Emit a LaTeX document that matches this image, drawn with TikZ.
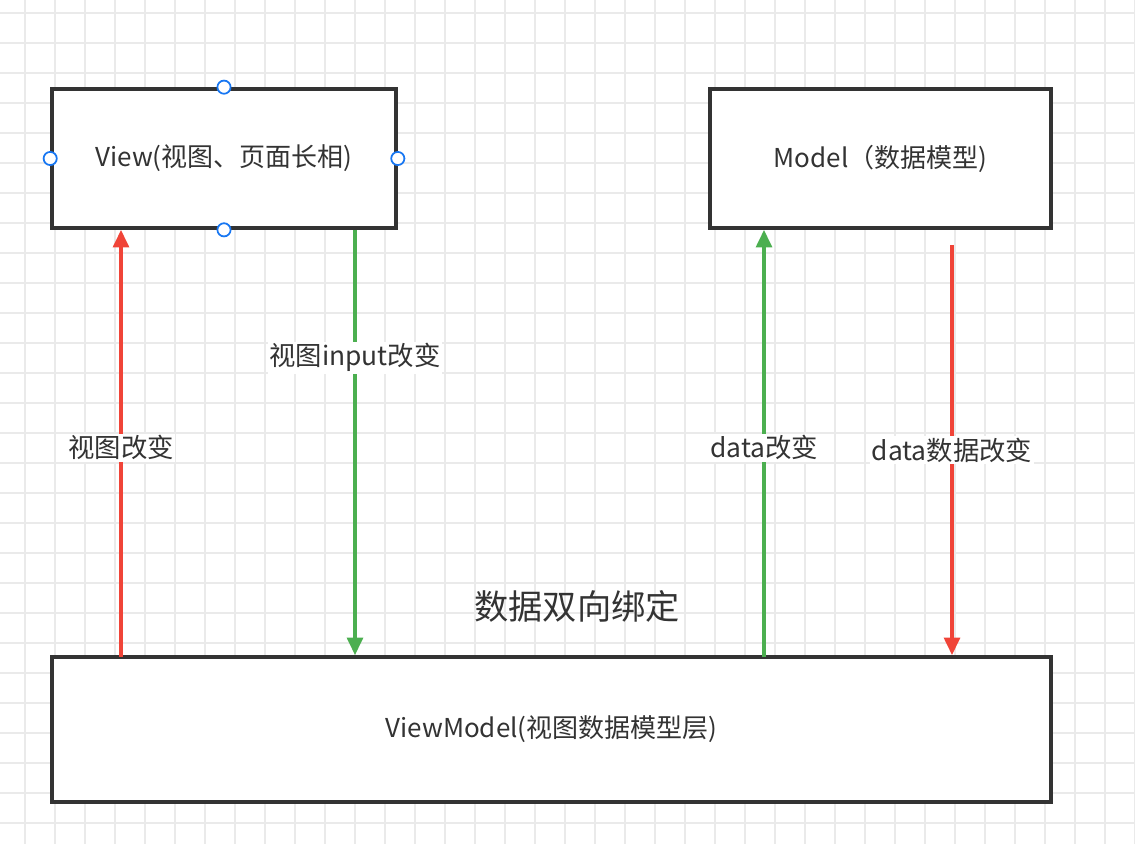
\documentclass[tikz,border=0pt]{standalone}
\usepackage{fontspec}
\setmainfont{Noto Sans CJK SC}
\usetikzlibrary{arrows.meta}
\definecolor{gridc}{RGB}{234,234,234}
\definecolor{boxc}{RGB}{51,51,51}
\definecolor{redc}{RGB}{240,68,56}
\definecolor{greenc}{RGB}{76,175,80}
\definecolor{handlec}{RGB}{24,119,242}
\tikzset{
  box/.style={draw=boxc, line width=2.1pt, fill=white, text=boxc, font=\fontsize{14.8}{17}\selectfont},
  lbl/.style={fill=white, inner sep=1pt, text=boxc, font=\fontsize{15}{18}\selectfont},
  redarr/.style={draw=redc, line width=2pt, -{Triangle[length=10pt,width=9pt]}},
  greenarr/.style={draw=greenc, line width=2pt, -{Triangle[length=10pt,width=9pt]}},
  handle/.style={circle, draw=handlec, fill=white, line width=1pt, inner sep=0pt, minimum size=7.5pt}
}
\begin{document}
\begin{tikzpicture}[x=0.02cm, y=-0.02cm]
\useasboundingbox (0,0) rectangle (1135,844);

% background grid
\foreach \x in {25,55,...,1135} \draw[gridc, line width=0.6pt] (\x,0) -- (\x,844);
\foreach \y in {13,43,...,844} \draw[gridc, line width=0.6pt] (0,\y) -- (1135,\y);

\node[box, minimum width=6.88cm, minimum height=2.78cm] (view) at (224,158.5) {View(视图、页面长相)};
\node[box, minimum width=6.82cm, minimum height=2.78cm] (model) at (880.5,158.5) {Model（数据模型)};
\node[box, minimum width=19.98cm, minimum height=2.9cm] (vm) at (551.5,729.5) {ViewModel(视图数据模型层)};

\coordinate (a1) at (121,657);
\coordinate (a2) at (355,230);
\coordinate (a3) at (764,657);
\coordinate (a4) at (952,245);

\draw[redarr] (a1) -- (a1 |- view.south) node[lbl, pos=0.49] {视图改变};
\draw[greenarr] (a2) -- (a2 |- vm.north) node[lbl, pos=0.3] {视图input改变};
\draw[greenarr] (a3) -- (a3 |- model.south) node[lbl, pos=0.49] {data改变};
\draw[redarr] (a4) -- (a4 |- vm.north) node[lbl, pos=0.5] {data数据改变};

\node[text=boxc, font=\fontsize{19.5}{23}\selectfont] (title) at (577,606) {数据双向绑定};

% selection handles
\node[handle] (h1) at (view.north) {};
\node[handle] (h2) at (view.south) {};
\node[handle] (h3) at (view.west) {};
\node[handle] (h4) at (view.east) {};

\end{tikzpicture}
\end{document}
